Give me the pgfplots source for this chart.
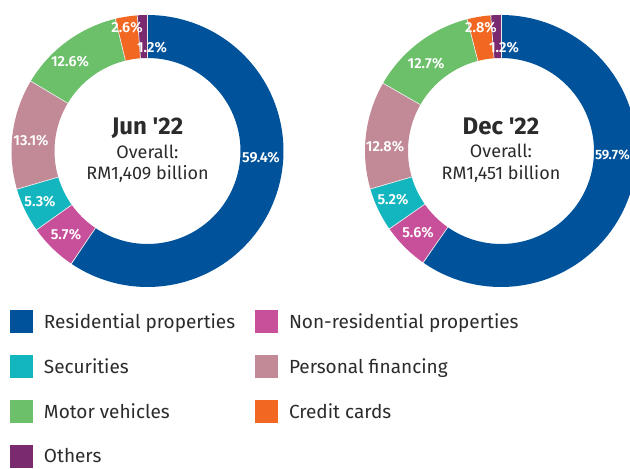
\documentclass[border=0pt]{standalone}
\usepackage{fontspec}
\setmainfont{Fira Sans}
\newfontfamily\semib{Fira Sans SemiBold}
\usepackage{pgfplots}
\usepackage{pgfplotstable}
\pgfplotsset{compat=1.18}

\definecolor{cres}{HTML}{00539B}
\definecolor{cnonres}{HTML}{C8509A}
\definecolor{csec}{HTML}{13B5BF}
\definecolor{cpers}{HTML}{C18A96}
\definecolor{cmotor}{HTML}{6CC06A}
\definecolor{ccredit}{HTML}{F26722}
\definecolor{cother}{HTML}{7A2A6E}
\definecolor{ctext}{HTML}{2B2B2B}

% shares in percent, clockwise from 12 o'clock
\pgfplotstableread{
idx share color
0 59.4 cres
1 5.7 cnonres
2 5.3 csec
3 13.1 cpers
4 12.6 cmotor
5 2.6 ccredit
6 1.2 cother
}\jundata
\pgfplotstableread{
idx share color
0 59.7 cres
1 5.6 cnonres
2 5.2 csec
3 12.8 cpers
4 12.7 cmotor
5 2.8 ccredit
6 1.2 cother
}\decdata

\newcommand\donut[3]{%
  \pgfplotstablegetrowsof{#1}%
  \pgfmathtruncatemacro\nrows{\pgfplotsretval-1}%
  \gdef\tot{0}%
  \pgfplotsforeachungrouped \i in {0,...,\nrows}{%
    \pgfplotstablegetelem{\i}{share}\of{#1}%
    \pgfmathsetmacro\tmp{\tot+\pgfplotsretval}%
    \global\let\tot\tmp
  }%
  \gdef\cum{0}%
  \pgfplotsforeachungrouped \i in {0,...,\nrows}{%
    \pgfplotstablegetelem{\i}{share}\of{#1}\let\sh\pgfplotsretval
    \pgfplotstablegetelem{\i}{color}\of{#1}\let\col\pgfplotsretval
    \pgfmathsetmacro\aa{90-360*(\cum/\tot)}%
    \pgfmathsetmacro\bb{90-360*((\cum+\sh)/\tot)}%
    \pgfmathsetmacro\tmp{\cum+\sh}\global\let\cum\tmp
    \edef\doplot{\noexpand\addplot[draw=\col, line width=43bp, line cap=butt, domain=\bb:\aa, samples=90] ({#2+114.5*cos(x)},{#3+114.5*sin(x)});}%
    \doplot
  }%
  \gdef\cum{0}%
  \pgfplotsforeachungrouped \i in {0,...,\nrows}{%
    \pgfplotstablegetelem{\i}{share}\of{#1}\let\sh\pgfplotsretval
    \pgfmathsetmacro\aa{90-360*(\cum/\tot)}%
    \pgfmathsetmacro\xa{#2+93*cos(\aa)}\pgfmathsetmacro\ya{#3+93*sin(\aa)}%
    \pgfmathsetmacro\xb{#2+136.5*cos(\aa)}\pgfmathsetmacro\yb{#3+136.5*sin(\aa)}%
    \pgfmathsetmacro\tmp{\cum+\sh}\global\let\cum\tmp
    \edef\doplot{\noexpand\addplot[draw=white!92!black, line width=0.7bp] coordinates {(\xa,\ya) (\xb,\yb)};}%
    \doplot
  }%
}

\newcommand\lblfont{\semib\fontsize{14.5bp}{17bp}\selectfont}
\newcommand\ttlfont{\bfseries\fontsize{24bp}{28bp}\selectfont}
\newcommand\subfont{\fontsize{18bp}{21bp}\selectfont}

\begin{document}
\begin{tikzpicture}
\begin{axis}[
  scale only axis, width=630bp, height=466bp,
  xmin=0, xmax=630, ymin=0, ymax=466,
  hide axis, clip=true,
  legend image code/.code={\fill[#1] (0bp,-11.5bp) rectangle (23bp,11.5bp);},
  legend cell align=left,
  legend columns=2,
  legend style={at={(0.015873,0.334764)}, anchor=north west, draw=none, fill=none,
    inner sep=0pt, outer sep=0pt, text=ctext,
    font=\fontsize{19bp}{22bp}\selectfont,
    nodes={inner sep=0pt}, column sep=11bp, row sep=22bp},
]
\addlegendimage{fill=cres, draw=none}
\addlegendentry{\makebox[200bp][l]{Residential properties}}
\addlegendimage{fill=cnonres, draw=none}
\addlegendentry{Non-residential properties}
\addlegendimage{fill=csec, draw=none}
\addlegendentry{\makebox[200bp][l]{Securities}}
\addlegendimage{fill=cpers, draw=none}
\addlegendentry{Personal financing}
\addlegendimage{fill=cmotor, draw=none}
\addlegendentry{\makebox[200bp][l]{Motor vehicles}}
\addlegendimage{fill=ccredit, draw=none}
\addlegendentry{Credit cards}
\addlegendimage{fill=cother, draw=none}
\addlegendentry{\makebox[200bp][l]{Others}}

% invisible frame so that the picture spans the whole axis box
\addplot[draw=none, forget plot] coordinates {(0,0) (630,466)};

\donut{\jundata}{147.5}{315}
\donut{\decdata}{501}{315}

% centre texts
\node[anchor=base, text=ctext, font=\ttlfont] at (axis cs:147.5,331) {Jun \textquotesingle22};
\node[anchor=base, text=ctext, font=\subfont] at (axis cs:147.5,307) {Overall:};
\node[anchor=base, text=ctext, font=\subfont] at (axis cs:147.5,286) {RM1,409 billion};
\node[anchor=base, text=ctext, font=\ttlfont] at (axis cs:501,331) {Dec \textquotesingle22};
\node[anchor=base, text=ctext, font=\subfont] at (axis cs:501,308) {Overall:};
\node[anchor=base, text=ctext, font=\subfont] at (axis cs:501,286) {RM1,451 billion};

% slice labels, Jun
\node[white, font=\lblfont, inner sep=0pt] at (axis cs:261,308) {59.4\%};
\node[white, font=\lblfont, inner sep=0pt] at (axis cs:66,231) {5.7\%};
\node[white, font=\lblfont, inner sep=0pt] at (axis cs:40,264) {5.3\%};
\node[white, font=\lblfont, inner sep=0pt] at (axis cs:31,325) {13.1\%};
\node[white, font=\lblfont, inner sep=0pt] at (axis cs:70,404) {12.6\%};
\node[white, font=\lblfont, inner sep=0pt] at (axis cs:127,438) {2.6\%};
\node[white, font=\lblfont, inner sep=0pt] at (axis cs:152,418) {1.2\%};
% slice labels, Dec
\node[white, font=\semib\fontsize{13.5bp}{16bp}\selectfont, inner sep=0pt, anchor=east] at (axis cs:630,311) {59.7\%};
\node[white, font=\lblfont, inner sep=0pt] at (axis cs:418,233) {5.6\%};
\node[white, font=\lblfont, inner sep=0pt] at (axis cs:393,266) {5.2\%};
\node[white, font=\lblfont, inner sep=0pt] at (axis cs:385,319) {12.8\%};
\node[white, font=\lblfont, inner sep=0pt] at (axis cs:426,402) {12.7\%};
\node[white, font=\lblfont, inner sep=0pt] at (axis cs:481,438) {2.8\%};
\node[white, font=\lblfont, inner sep=0pt] at (axis cs:504,418) {1.2\%};
\end{axis}
\end{tikzpicture}
\end{document}
